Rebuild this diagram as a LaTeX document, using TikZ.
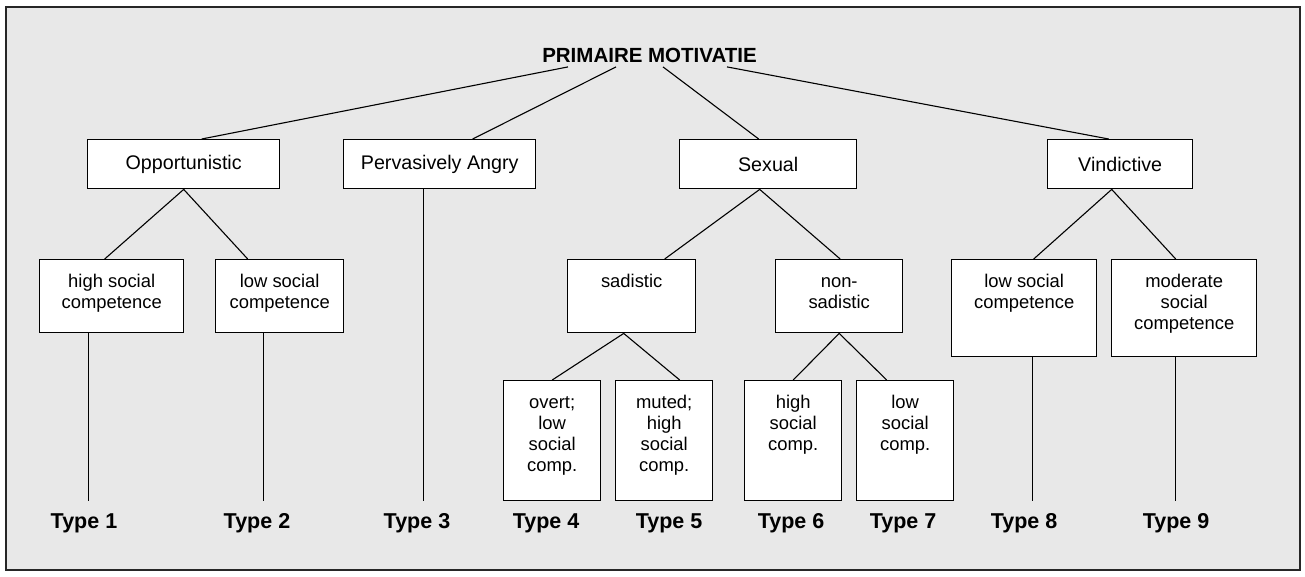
\documentclass[tikz,border=0pt]{standalone}
\usepackage{fontspec}
\setmainfont{Liberation Sans}
\usetikzlibrary{calc}

\definecolor{panelgray}{RGB}{232,232,232}
\newcommand{\boxfont}{\fontsize{18.4}{21}\selectfont}
\newcommand{\headfont}{\fontsize{19.7}{22}\selectfont}
\newcommand{\typefont}{\fontsize{21.5}{24}\selectfont\bfseries}
\newcommand{\toptext}[3]{\parbox[c][#2][t]{#1}{\centering\vspace*{13.5pt}\strut#3}}

\tikzstyle{block} = [rectangle, draw, fill=white, inner sep=0pt, anchor=north west, line width=1.4pt, font=\boxfont]
\tikzstyle{head} = [block, font=\headfont, minimum height=49pt]
\tikzstyle{line} = [draw, line width=1.1pt]
\tikzstyle{typelabel} = [anchor=base, inner sep=12pt, font=\typefont]

\begin{document}
\begin{tikzpicture}[x=1pt, y=-1pt]
	\useasboundingbox (0,0) rectangle (1305,576);
	\draw[fill=panelgray, draw=black!85, line width=1.3pt] (6,7) rectangle (1300,570);
	
	\node[anchor=base, inner sep=4.5pt, font=\fontsize{20.5}{24}\selectfont\bfseries] (pm) at (649.5,62) {PRIMAIRE MOTIVATIE};
	
	% motivations
	\node[head, minimum width=192pt] (opp) at (87,139) {Opportunistic};
	\node[head, minimum width=192pt] (angry) at (343,139) {Pervasively Angry};
	\node[head, minimum width=177pt] (sexual) at (679,139) {Sexual};
	\node[head, minimum width=145pt] (vind) at (1047,139) {Vindictive};
	
	% subtypes
	\node[block] (hsc) at (39,259) {\toptext{144pt}{73pt}{high social\\competence}};
	\node[block] (lsc) at (215,259) {\toptext{128pt}{73pt}{low social\\competence}};
	\node[block] (sad) at (567,259) {\toptext{128pt}{73pt}{sadistic}};
	\node[block] (nonsad) at (775,259) {\toptext{127pt}{73pt}{non-\\sadistic}};
	\node[block] (vlsc) at (951,259) {\toptext{145pt}{97pt}{low social\\competence}};
	\node[block] (vmsc) at (1111,259) {\toptext{145pt}{97pt}{moderate\\social\\competence}};
	
	\node[block] (overt) at (503,380) {\toptext{97pt}{120pt}{overt;\\low\\social\\comp.}};
	\node[block] (muted) at (615,380) {\toptext{97pt}{120pt}{muted;\\high\\social\\comp.}};
	\node[block] (hsoc) at (744,380) {\toptext{97pt}{120pt}{high\\social\\comp.}};
	\node[block] (lsoc) at (856,380) {\toptext{97pt}{120pt}{low\\social\\comp.}};
	
	% types
	\node[typelabel] (t1) at (84,528) {Type 1};
	\node[typelabel] (t2) at (257,528) {Type 2};
	\node[typelabel] (t3) at (417,528) {Type 3};
	\node[typelabel] (t4) at (546,528) {Type 4};
	\node[typelabel] (t5) at (669,528) {Type 5};
	\node[typelabel] (t6) at (791,528) {Type 6};
	\node[typelabel] (t7) at (903,528) {Type 7};
	\node[typelabel] (t8) at (1024,528) {Type 8};
	\node[typelabel] (t9) at (1176,528) {Type 9};
	
	\path[line] ($(pm.south)+(-81.5,0)$) -- ($(opp.north)+(18,0)$);
	\path[line] ($(pm.south)+(-33.5,0)$) -- ($(angry.north)+(33,0)$);
	\path[line] ($(pm.south)+(13.5,0)$) -- ($(sexual.north)+(-9.5,0)$);
	\path[line] ($(pm.south)+(77.5,0)$) -- ($(vind.north)+(-11.5,0)$);
	
	\path[line] (opp.south) -- ($(hsc.north)+(-7,0)$);
	\path[line] (opp.south) -- ($(lsc.north)+(-32,0)$);
	\path[line] ($(sexual.south)+(-8.5,0)$) -- ($(sad.north)+(33,0)$);
	\path[line] ($(sexual.south)+(-8.5,0)$) -- ($(nonsad.north)+(1,0)$);
	\path[line] ($(vind.south)+(-8.5,0)$) -- ($(vlsc.north)+(9.5,0)$);
	\path[line] ($(vind.south)+(-8.5,0)$) -- ($(vmsc.north)+(-8.5,0)$);
	
	\path[line] ($(sad.south)+(-8,0)$) -- (overt.north);
	\path[line] ($(sad.south)+(-8,0)$) -- ($(muted.north)+(15.5,0)$);
	\path[line] (nonsad.south) -- (hsoc.north);
	\path[line] (nonsad.south) -- ($(lsoc.north)+(-18.5,0)$);
	
	\coordinate (d1) at ($(hsc.south)+(-23,0)$);
	\coordinate (d2) at ($(lsc.south)+(-16,0)$);
	\coordinate (d3) at ($(angry.south)+(-16,0)$);
	\coordinate (d8) at ($(vlsc.south)+(8.5,0)$);
	\coordinate (d9) at ($(vmsc.south)+(-8.5,0)$);
	\path[line] (d1) -- (d1 |- t1.north);
	\path[line] (d2) -- (d2 |- t2.north);
	\path[line] (d3) -- (d3 |- t3.north);
	\path[line] (d8) -- (d8 |- t8.north);
	\path[line] (d9) -- (d9 |- t9.north);
\end{tikzpicture}
\end{document}
